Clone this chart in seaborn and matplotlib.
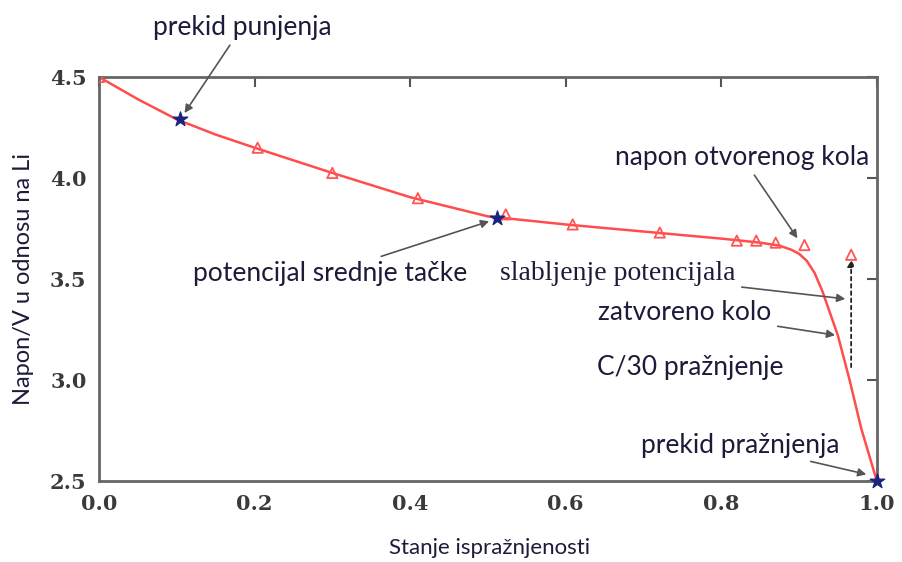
import matplotlib
matplotlib.use("Agg")
import matplotlib.pyplot as plt
import seaborn as sns
import pandas as pd

# smooth discharge curve
curve_x = [0.0, 0.05, 0.1, 0.15, 0.2, 0.3, 0.4, 0.5, 0.6, 0.7, 0.8, 0.85, 0.875,
           0.89, 0.9, 0.91, 0.92, 0.93, 0.94, 0.95, 0.965, 0.98, 1.0]
curve_y = [4.5, 4.39, 4.29, 4.215, 4.15, 4.025, 3.905, 3.81, 3.77, 3.735, 3.70,
           3.68, 3.665, 3.645, 3.625, 3.59, 3.53, 3.44, 3.33, 3.22, 3.0, 2.76, 2.5]

# open-circuit points (triangles)
ocv_x = [0.0, 0.204, 0.30, 0.41, 0.523, 0.609, 0.721, 0.82, 0.845, 0.87, 0.907, 0.967]
ocv_y = [4.5, 4.15, 4.025, 3.90, 3.82, 3.77, 3.73, 3.69, 3.69, 3.68, 3.668, 3.62]

# special points (stars)
star_x = [0.104, 0.512, 1.0]
star_y = [4.29, 3.80, 2.5]

x_ticks = [0.0, 0.2, 0.4, 0.6, 0.8, 1.0]
y_ticks = [2.5, 3.0, 3.5, 4.0, 4.5]

sns.set_style("white")
fig = plt.figure(figsize=(9.03, 5.62), dpi=100)
ax = fig.add_axes([0.1096, 0.1441, 0.8614, 0.7189])

text_col = "#1c1c3a"
ann_font = "Lato"

curve = pd.DataFrame({"x": curve_x, "y": curve_y})
sns.lineplot(data=curve, x="x", y="y", ax=ax, color="#ff4d4d", lw=1.8, sort=False)

ocv = pd.DataFrame({"x": ocv_x, "y": ocv_y})
sns.scatterplot(data=ocv, x="x", y="y", ax=ax, marker="^", s=55,
                facecolor="none", edgecolor="#ff5555", linewidth=1.3, zorder=4)

stars = pd.DataFrame({"x": star_x, "y": star_y})
sns.scatterplot(data=stars, x="x", y="y", ax=ax, marker="*", s=120,
                color="#1a237e", edgecolor="#1a237e", zorder=5, clip_on=False)

# dotted potential drop line
ax.annotate("", xy=(0.967, 3.61), xytext=(0.967, 3.05),
            arrowprops=dict(arrowstyle="-|>", ls=(0, (2, 2)), color="#222222",
                            lw=1.3, mutation_scale=10))

ax.set_xlim(0, 1)
ax.set_ylim(2.5, 4.5)
ax.set_xticks(x_ticks)
ax.set_yticks(y_ticks)
ax.set_xticklabels([f"{v:.1f}" for v in x_ticks])
ax.set_yticklabels([f"{v:.1f}" for v in y_ticks])
for lab in ax.get_xticklabels() + ax.get_yticklabels():
    lab.set_fontfamily("DejaVu Serif")
    lab.set_fontweight("bold")
    lab.set_fontsize(15)
    lab.set_color("#3a3a3a")
ax.tick_params(direction="in", length=7, width=1.5, color="#555555",
               top=True, right=True, pad=9)
for sp in ax.spines.values():
    sp.set_color("#666666")
    sp.set_linewidth(2)

ax.set_xlabel("Stanje ispražnjenosti", fontsize=16, family=ann_font, color=text_col,
              va="center")
ax.set_ylabel("Napon/V u odnosu na Li", fontsize=17, family=ann_font, color=text_col)
ax.xaxis.set_label_coords(0.502, -0.166)
ax.yaxis.set_label_coords(-0.083, 0.5)

arrow = dict(arrowstyle="-|>", color="#555555", lw=1.2, mutation_scale=12)

def note(txt, xy, xytext, fam=ann_font, size=19, arrow_on=True):
    ax.annotate(txt, xy=xy, xycoords="data", xytext=xytext,
                textcoords="figure pixels", fontsize=size, family=fam,
                color=text_col, ha="center", va="center",
                arrowprops=arrow if arrow_on else None, annotation_clip=False)

# texts placed in figure pixels (origin bottom-left)
note("prekid punjenja", (0.108, 4.31), (242, 562 - 27))
note("potencijal srednje tačke", (0.505, 3.79), (330, 562 - 273))
note("napon otvorenog kola", (0.9, 3.69), (742, 562 - 157))
note("slabljenje potencijala", (0.963, 3.40), (618, 562 - 273),
     fam="Liberation Serif", size=20)
note("zatvoreno kolo", (0.95, 3.22), (685, 562 - 312))
note("C/30 pražnjenje", (0.95, 3.2), (690, 562 - 367), arrow_on=False)
note("prekid pražnjenja", (0.99, 2.53), (740, 562 - 445))

fig.savefig("out.png", dpi=100)
